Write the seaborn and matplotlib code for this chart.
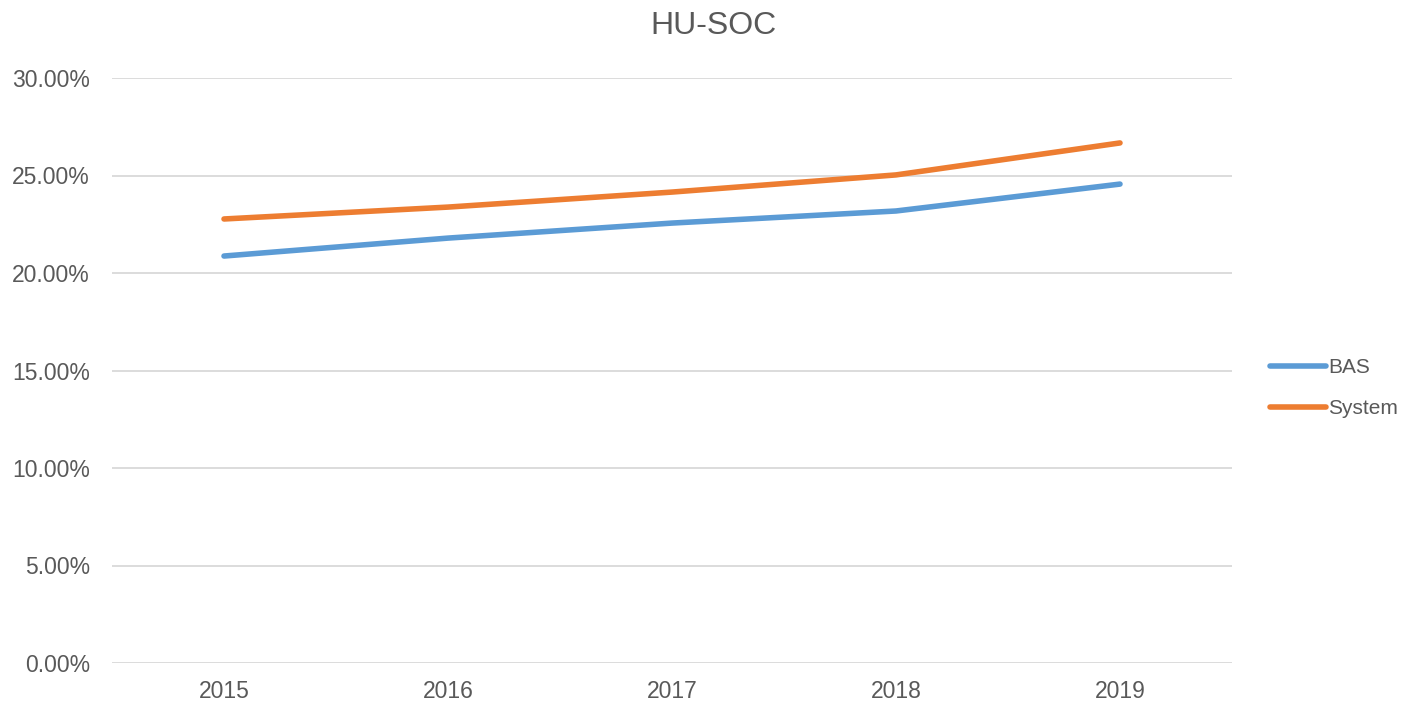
import matplotlib
matplotlib.use("Agg")
import matplotlib.pyplot as plt
import seaborn as sns
import pandas as pd
from matplotlib.ticker import PercentFormatter

# data
years = [2015, 2016, 2017, 2018, 2019]
bas = [0.2087, 0.2179, 0.2256, 0.2318, 0.2456]
system = [0.2277, 0.2338, 0.2415, 0.2503, 0.2667]

df = pd.DataFrame({
    'Year': years * 2,
    'Value': bas + system,
    'Series': ['BAS'] * 5 + ['System'] * 5,
})

sns.set_style("white")
plt.rcParams['font.family'] = ['Liberation Sans Narrow', 'Liberation Sans', 'DejaVu Sans']
txt = '#595959'

fig = plt.figure(figsize=(14.12, 7.06), dpi=100)
ax = fig.add_axes([112 / 1412, 43 / 706, 1120 / 1412, 585 / 706])

sns.lineplot(data=df, x='Year', y='Value', hue='Series',
             palette={'BAS': '#5b9bd5', 'System': '#ed7d31'},
             linewidth=4, ax=ax, solid_capstyle='round')

ax.set_xlim(2014.5, 2019.5)
ax.set_ylim(0, 0.30)
ax.set_xticks(years)
ax.set_xticklabels([str(y) for y in years])
ax.set_yticks([0, 0.05, 0.10, 0.15, 0.20, 0.25, 0.30])
ax.yaxis.set_major_formatter(PercentFormatter(1.0, decimals=2))
ax.grid(axis='y', color='#d9d9d9', linewidth=1.3)
ax.set_axisbelow(True)
for s in ax.spines.values():
    s.set_visible(False)
ax.tick_params(axis='both', length=0, labelsize=16.5, colors=txt)
ax.tick_params(axis='y', pad=16)
ax.tick_params(axis='x', pad=12)
ax.set_xlabel('')
ax.set_ylabel('')
fig.text(0.505, 0.963, 'HU-SOC', fontsize=23, color=txt, ha='center', va='center')

leg = ax.legend(loc='center left', bbox_to_anchor=(1.017, 0.47), frameon=False,
                fontsize=15, handlelength=2.7, handletextpad=0.1, labelspacing=1.07)
for t in leg.get_texts():
    t.set_color(txt)

fig.savefig('out.png', dpi=100)
